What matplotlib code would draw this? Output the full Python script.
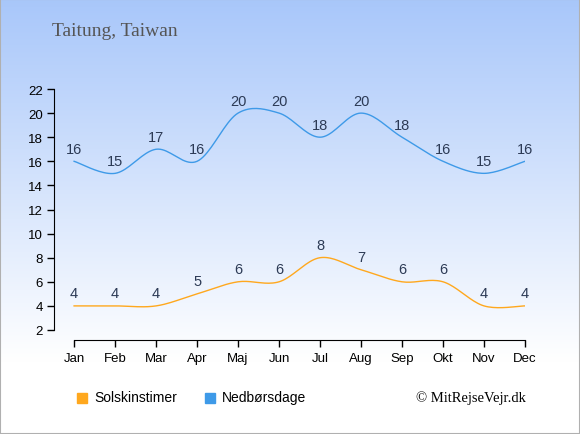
import numpy as np
import matplotlib.pyplot as plt
from matplotlib.patches import Rectangle

months = ['Jan', 'Feb', 'Mar', 'Apr', 'Maj', 'Jun', 'Jul', 'Aug', 'Sep', 'Okt', 'Nov', 'Dec']
sun_hours = [4, 4, 4, 5, 6, 6, 8, 7, 6, 6, 4, 4]
rain_days = [16, 15, 17, 16, 20, 20, 18, 20, 18, 16, 15, 16]
y_ticks = [2, 4, 6, 8, 10, 12, 14, 16, 18, 20, 22]

sun_color = '#ffa81e'
rain_color = '#3e9ae8'
label_color = '#2c3a55'


def smooth(x, y, n=20):
    # Catmull-Rom spline through the points, for drawing only
    x = np.asarray(x, float)
    y = np.asarray(y, float)
    px = np.concatenate([[x[0]], x, [x[-1]]])
    py = np.concatenate([[y[0]], y, [y[-1]]])
    xs, ys = [], []
    for i in range(1, len(px) - 2):
        t = np.linspace(0, 1, n, endpoint=False)
        for p, out in ((px, xs), (py, ys)):
            p0, p1, p2, p3 = p[i - 1], p[i], p[i + 1], p[i + 2]
            out.extend(0.5 * ((2 * p1) + (-p0 + p2) * t
                              + (2 * p0 - 5 * p1 + 4 * p2 - p3) * t ** 2
                              + (-p0 + 3 * p1 - 3 * p2 + p3) * t ** 3))
    xs.append(x[-1])
    ys.append(y[-1])
    return np.array(xs), np.array(ys)


W, H = 580, 435
fig = plt.figure(figsize=(W / 100, H / 100), dpi=100)

# background gradient
bg = fig.add_axes([0, 0, 1, 1], zorder=0)
grad = np.linspace(0, 1, 256)
top = np.array([0.66, 0.78, 0.98])
bottom = np.array([1.0, 1.0, 1.0])
f = np.clip(grad * 1.2, 0, 1)[:, None, None]
img = top + (bottom - top) * f
bg.imshow(img, aspect='auto', extent=[0, 1, 0, 1])
bg.set_axis_off()
bg.add_patch(Rectangle((0, 0), 1, 1, transform=bg.transAxes, fill=False,
                       edgecolor='#b0b0b0', linewidth=1.5))

left_px, right_px, top_px, bottom_px = 54, 525, 90, 341
ax = fig.add_axes([left_px / W, 1 - bottom_px / H,
                   (right_px - left_px) / W, (bottom_px - top_px) / H], zorder=1)
ax.patch.set_alpha(0)
x = np.arange(len(months))
ax.set_xlim(-0.49, 11)
ax.set_ylim(2 - 10 / 12.05, 22)

sx, sy = smooth(x, sun_hours)
rx, ry = smooth(x, rain_days)
ax.plot(sx, sy, color=sun_color, linewidth=1)
ax.plot(rx, ry, color=rain_color, linewidth=1)

for series in (sun_hours, rain_days):
    for xi, v in zip(x, series):
        ax.annotate(str(v), (xi, v), xytext=(0, 4), textcoords='offset points',
                    ha='center', va='bottom', fontsize=10.5, color=label_color,
                    family='Liberation Sans')

ax.spines['top'].set_visible(False)
ax.spines['right'].set_visible(False)
ax.spines['left'].set_bounds(2, 22)
ax.spines['bottom'].set_bounds(0, 11)
ax.set_xticks(x)
ax.set_xticklabels(months, family='Liberation Sans', fontsize=9.5)
ax.set_yticks(y_ticks)
ax.set_yticklabels([str(t) for t in y_ticks], family='Liberation Sans', fontsize=9.5)
ax.tick_params(length=5, width=1, colors='black')
ax.tick_params(axis='y', pad=3)

fig.text(52 / W, 1 - 31 / H, 'Taitung, Taiwan', family='Liberation Serif',
         fontsize=14, color='#555555', va='center')

# legend
sq = 10
fig.patches.append(Rectangle((77 / W, 1 - 404 / H), sq / W, sq / H,
                             transform=fig.transFigure, color=sun_color))
fig.text(94 / W, 1 - 398 / H, 'Solskinstimer', family='Liberation Sans',
         fontsize=10, va='center')
fig.patches.append(Rectangle((205 / W, 1 - 404 / H), sq / W, sq / H,
                             transform=fig.transFigure, color=rain_color))
fig.text(222 / W, 1 - 398 / H, 'Nedbørsdage', family='Liberation Sans',
         fontsize=10, va='center')
fig.text(526 / W, 1 - 398 / H, '© MitRejseVejr.dk', family='Liberation Serif',
         fontsize=10.5, va='center', ha='right')

fig.savefig('out.png', dpi=100)
